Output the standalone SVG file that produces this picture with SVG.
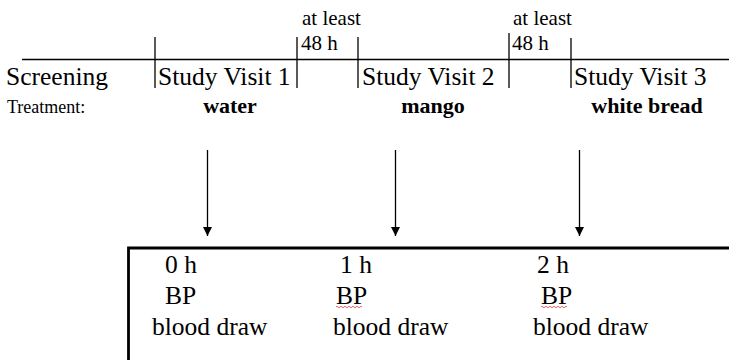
<svg xmlns="http://www.w3.org/2000/svg" width="729" height="360" viewBox="0 0 729 360" font-family="'Liberation Serif', 'Times New Roman', serif">
<style>
text{font-family:"Liberation Serif","Times New Roman",serif;fill:#000}
.m{font-size:25.5px}
.s{font-size:21px}
.b{font-size:22px;font-weight:bold;text-anchor:middle}
.ln{stroke:#000;stroke-width:1.3;fill:none}
.ar{stroke:#000;stroke-width:1.3;fill:none;marker-end:url(#ah)}
.sq{stroke:#e04040;stroke-width:0.8;fill:none}
</style>
<defs>
<marker id="ah" markerWidth="9" markerHeight="9" refX="9" refY="4.5" orient="auto" markerUnits="userSpaceOnUse" viewBox="0 0 9 9">
<path d="M0,0 L9,4.5 L0,9 Z" fill="#000"/>
</marker>
</defs>
<g id="timeline">
<line class="ln" x1="22" y1="59.5" x2="729" y2="59.5"/>
<line class="ln" x1="155" y1="37" x2="155" y2="88"/>
<line class="ln" x1="297" y1="37" x2="297" y2="88"/>
<line class="ln" x1="358" y1="37" x2="358" y2="88"/>
<line class="ln" x1="509" y1="33" x2="509" y2="88"/>
<line class="ln" x1="571" y1="38" x2="571" y2="88"/>
</g>
<g id="gap1">
<text class="s" x="302" y="25">at least</text>
<text class="s" x="301" y="50">48 h</text>
</g>
<g id="gap2">
<text class="s" x="513" y="25">at least</text>
<text class="s" x="512" y="50">48 h</text>
</g>
<g id="screening">
<text class="m" x="6" y="85">Screening</text>
<text x="7" y="113" font-size="18">Treatment:</text>
</g>
<g id="visit1">
<text class="m" x="158" y="85">Study Visit 1</text>
<text class="b" x="230" y="113">water</text>
</g>
<g id="visit2">
<text class="m" x="362" y="85">Study Visit 2</text>
<text class="b" x="433" y="113">mango</text>
</g>
<g id="visit3">
<text class="m" x="574" y="85">Study Visit 3</text>
<text class="b" x="647" y="113">white bread</text>
</g>
<g id="connectors">
<line class="ar" x1="207.5" y1="150" x2="207.5" y2="236"/>
<line class="ar" x1="395.5" y1="150" x2="395.5" y2="236"/>
<line class="ar" x1="579.5" y1="150" x2="579.5" y2="236"/>
</g>
<g id="measurements">
<path d="M128.5,362 L128.5,248 L731,248" stroke="#000" stroke-width="2.8" fill="none"/>
<text class="m" x="165" y="273">0 h</text>
<text class="m" x="165" y="304">BP</text>
<text class="m" x="152" y="335">blood draw</text>
<text class="m" x="340" y="273">1 h</text>
<text class="m" x="336" y="304">BP</text>
<text class="m" x="333" y="335">blood draw</text>
<text class="m" x="537" y="273">2 h</text>
<text class="m" x="541" y="304">BP</text>
<text class="m" x="533" y="335">blood draw</text>
<path class="sq" d="M336,307 q1,-1.5 2,0 t2,0 t2,0 t2,0 t2,0 t2,0 t2,0 t2,0 t2,0 t2,0 t2,0 t2,0 t2,0"/>
<path class="sq" d="M541,307 q1,-1.5 2,0 t2,0 t2,0 t2,0 t2,0 t2,0 t2,0 t2,0 t2,0 t2,0 t2,0 t2,0 t2,0"/>
</g>
</svg>
